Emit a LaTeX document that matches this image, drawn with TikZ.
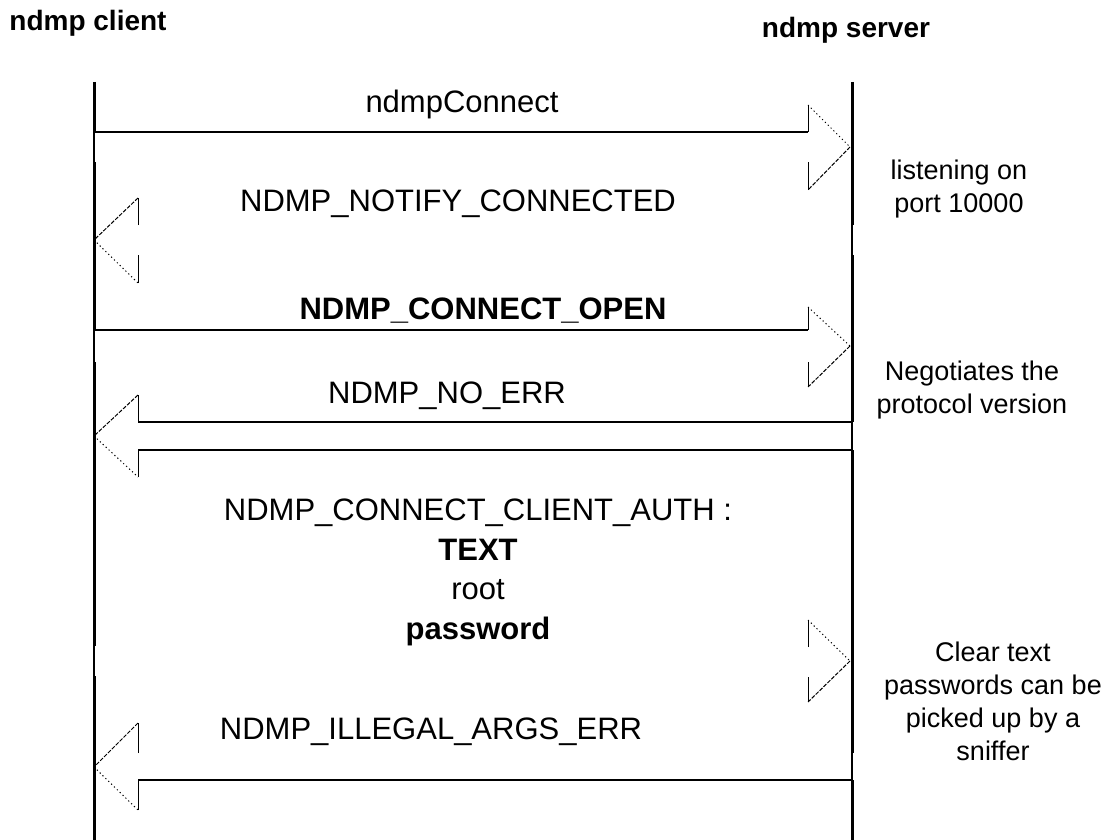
\documentclass[tikz,border=0pt]{standalone}
\usepackage{fontspec}
\setmainfont{Liberation Sans}
\usetikzlibrary{positioning}

\begin{document}
\begin{tikzpicture}[x=1pt, y=-1pt,
    party/.style={font=\bfseries\fontsize{28}{32}\selectfont, anchor=base, inner sep=0pt},
    msg/.style={font=\fontsize{31}{39.5}\selectfont, anchor=base, align=center, inner sep=0pt},
    note/.style={font=\fontsize{27}{33}\selectfont, anchor=base, align=center, inner sep=0pt},
    life/.style={line width=3pt},
    lifethin/.style={line width=1.2pt},
    shaft/.style={line width=1.6pt},
    barb/.style={line width=1pt},
    fall/.style={line width=1pt, dash pattern=on 1.2pt off 2.8pt},
    rise/.style={line width=1pt, dash pattern=on 4pt off 1.5pt}]
    \useasboundingbox (0,0) rectangle (1108,840);

    % Parties
    \node [party] (client) at (88,31) {ndmp client};
    \node [party] (server) at (846,38) {ndmp server};

    % Lifelines
    \coordinate (cTop) at (94,82);
    \coordinate (cBot) at (94,840);
    \coordinate (sTop) at (852,82);
    \coordinate (sBot) at (852,840);
    \draw[life] (cTop) -- (94,132);
    \draw[lifethin] (94,132) -- (94,162);
    \draw[life] (94,162) -- (94,330);
    \draw[lifethin] (94,330) -- (94,362);
    \draw[life] (94,362) -- (94,646);
    \draw[lifethin] (94,646) -- (94,676);
    \draw[life] (94,676) -- (cBot);
    \draw[life] (sTop) -- (852,225);
    \draw[lifethin] (852,225) -- (852,255);
    \draw[life] (852,255) -- (852,422);
    \draw[lifethin] (852,422) -- (852,450);
    \draw[life] (852,450) -- (852,753);
    \draw[lifethin] (852,753) -- (852,780);
    \draw[life] (852,780) -- (sBot);

    % Messages (multi-line nodes sit on their last baseline)
    \node [msg] (connect) at (462,113) {ndmpConnect};
    \node [msg] (notify) at (458,211) {NDMP\_NOTIFY\_CONNECTED};
    \node [msg, font=\bfseries\fontsize{31}{39.5}\selectfont] (open) at (483,319) {NDMP\_CONNECT\_OPEN};
    \node [msg] (noerr) at (447,403) {NDMP\_NO\_ERR};
    \node [msg] (auth) at (478,639) {NDMP\_CONNECT\_CLIENT\_AUTH :\\\textbf{TEXT}\\root\\\textbf{password}};
    \node [msg] (illegal) at (431,739) {NDMP\_ILLEGAL\_ARGS\_ERR};

    % Notes
    \node [note] (listen) at (959,212) {listening on\\port 10000};
    \node [note] (negotiate) at (972,413) {Negotiates the\\protocol version};
    \node [note] (sniff) at (993,760) {Clear text\\passwords can be\\picked up by a\\sniffer};

    % ndmpConnect
    \draw[shaft] (cTop |- 0,132) -- (808,132);
    \draw[barb] (808,132) -- (808,105);
    \draw[fall] (808,105) -- (850,147);
    \draw[rise] (850,147) -- (808,190);
    \draw[barb] (808,190) -- (808,162);

    % NDMP_NOTIFY_CONNECTED
    \draw[barb] (138,225) -- (138,198);
    \draw[rise] (138,198) -- (94,240);
    \draw[fall] (94,240) -- (138,283);
    \draw[barb] (138,283) -- (138,255);

    % NDMP_CONNECT_OPEN
    \draw[shaft] (cTop |- 0,330) -- (808,330);
    \draw[barb] (808,330) -- (808,307);
    \draw[fall] (808,307) -- (850,346);
    \draw[rise] (850,346) -- (808,387);
    \draw[barb] (808,387) -- (808,362);

    % NDMP_NO_ERR
    \draw[shaft] (sTop |- 0,422) -- (138,422);
    \draw[barb] (138,422) -- (138,395);
    \draw[rise] (138,395) -- (94,436);
    \draw[fall] (94,436) -- (138,477);
    \draw[barb] (138,477) -- (138,450);
    \draw[shaft] (138,450) -- (sTop |- 0,450);

    % NDMP_CONNECT_CLIENT_AUTH
    \draw[barb] (808,647) -- (808,620);
    \draw[fall] (808,620) -- (850,661);
    \draw[rise] (850,661) -- (808,702);
    \draw[barb] (808,702) -- (808,677);

    % NDMP_ILLEGAL_ARGS_ERR
    \draw[barb] (138,753) -- (138,723);
    \draw[rise] (138,723) -- (94,767);
    \draw[fall] (94,767) -- (138,810);
    \draw[barb] (138,810) -- (138,780);
    \draw[shaft] (138,780) -- (sTop |- 0,780);
\end{tikzpicture}
\end{document}
